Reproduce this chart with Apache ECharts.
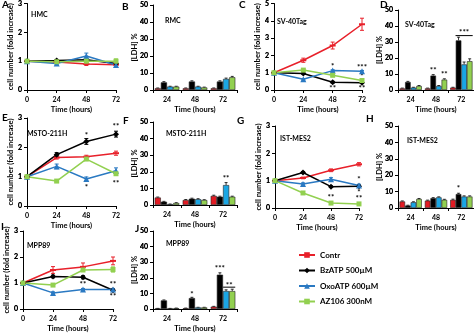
<!DOCTYPE html>
<html><head><meta charset="utf-8">
<script src="https://cdn.jsdelivr.net/npm/echarts@6/dist/echarts.min.js"></script>
<style>html,body{margin:0;padding:0;background:#fff}#c{width:474px;height:334px}</style>
</head><body><div id="c"></div>
<script>
// ---------- DATA ----------
const hours = [0, 24, 48, 72];
const barHours = ['24', '48', '72'];
const names = ['Contr', 'BzATP 500µM', 'OxoATP 600µM', 'AZ106 300nM'];
const yTicksLine = [0, 1, 2, 3];
const yTicksLine5 = [0, 1, 2, 3, 4, 5];
const yTicksBar = [0, 10, 20, 30, 40, 50];

const A_contr = [1, 0.97, 0.9, 0.88];
const A_bz    = [1, 1.02, 1.05, 0.92];
const A_oxo   = [1, 0.92, 1.18, 0.87];
const A_az    = [1, 0.98, 1.0, 1.0];
const A_err   = [[0,0.03,0.05,0.04],[0,0.04,0.04,0.03],[0,0.04,0.1,0.05],[0,0.03,0.04,0.08]];
const A_sig   = [];

const C_contr = [1, 1.72, 2.57, 3.8];
const C_bz    = [1, 0.95, 0.45, 0.42];
const C_oxo   = [1, 0.62, 1.12, 1.08];
const C_az    = [1, 1.15, 0.85, 0.55];
const C_err   = [[0,0.12,0.2,0.35],[0,0.04,0.05,0.04],[0,0.04,0.05,0.05],[0,0.05,0.05,0.05]];
const C_sig   = [[48,1.38,'*'],[48,0.12,'**'],[72,1.3,'***'],[72,0.78,'*'],[72,0.12,'**']];

const E_contr = [1, 1.65, 1.68, 1.8];
const E_bz    = [1, 1.75, 2.2, 2.45];
const E_oxo   = [1, 1.35, 0.92, 1.2];
const E_az    = [1, 0.85, 1.6, 1.1];
const E_err   = [[0,0.05,0.05,0.07],[0,0.07,0.1,0.1],[0,0.08,0.07,0.1],[0,0.03,0.04,0.05]];
const E_sig   = [[48,2.42,'*'],[48,0.62,'*'],[72,2.7,'**'],[72,0.78,'**']];

const G_contr = [1, 1.1, 1.38, 1.6];
const G_bz    = [1, 1.3, 0.78, 0.8];
const G_oxo   = [1, 0.88, 1.05, 0.82];
const G_az    = [1, 0.55, 0.18, 0.15];
const G_err   = [[0,0.03,0.05,0.06],[0,0.03,0.03,0.04],[0,0.04,0.06,0.05],[0,0.03,0.03,0.03]];
const G_sig   = [[48,0.4,'**'],[72,1.05,'*'],[72,0.58,'*'],[72,0.35,'**']];

const I_contr = [1, 1.5, 1.62, 1.85];
const I_bz    = [1, 1.25, 1.22, 0.72];
const I_oxo   = [1, 0.62, 0.75, 0.75];
const I_az    = [1, 0.92, 1.5, 1.52];
const I_err   = [[0,0.13,0.15,0.15],[0,0.05,0.06,0.05],[0,0.04,0.04,0.04],[0,0.04,0.05,0.1]];
const I_sig   = [[48,0.95,'**'],[72,0.95,'**'],[72,0.5,'**']];

const B_contr = [1, 1, 1];
const B_bz    = [4.5, 5, 5];
const B_oxo   = [2, 2, 6.5];
const B_az    = [2, 1.5, 7.5];
const B_err   = [[0.2,0.2,0.2],[0.4,0.4,0.4],[0.2,0.2,0.5],[0.2,0.2,0.5]];
const B_sig   = [];
const B_brk   = [];

const D_contr = [1, 1, 1.5];
const D_bz    = [5, 9, 31];
const D_oxo   = [1.5, 2.5, 16];
const D_az    = [2.5, 6.5, 18];
const D_err   = [[0.2,0.2,0.2],[0.4,0.6,2],[0.2,0.3,1.5],[0.3,0.5,1.5]];
const D_sig   = [[1,1,12,'**'],[1,3,9.5,'**'],[2,2,36,'***']];
const D_brk   = [[2,1,3,34]];

const F_contr = [4.5, 3, 5.5];
const F_bz    = [2, 3.8, 5];
const F_oxo   = [0.5, 3.5, 12];
const F_az    = [1.2, 3, 5];
const F_err   = [[0.3,0.3,0.4],[0.2,0.3,0.3],[0.1,0.3,1.5],[0.2,0.2,0.3]];
const F_sig   = [[2,2,16,'**']];
const F_brk   = [];

const H_contr = [4, 4.5, 5];
const H_bz    = [1.5, 6, 8.5];
const H_oxo   = [3.5, 6.5, 7];
const H_az    = [5.5, 5, 7];
const H_err   = [[0.3,0.3,0.4],[0.2,0.3,0.5],[0.3,0.3,0.4],[0.3,0.3,0.4]];
const H_sig   = [[2,1,12,'*']];
const H_brk   = [];

const J_contr = [0.3, 0.5, 1.5];
const J_bz    = [5.5, 7, 22];
const J_oxo   = [0.3, 1, 11.5];
const J_az    = [0.5, 1, 11.5];
const J_err   = [[0.1,0.1,0.2],[0.3,0.5,1.2],[0.1,0.1,0.8],[0.1,0.1,1.2]];
const J_sig   = [[1,1,9.5,'*'],[2,1,26,'***'],[2,2.5,15,'**']];
const J_brk   = [[2,2,3,14]];

// ---------- STYLE / LAYOUT ----------
const FONT = 'Lato';
const lineColors = ['#e8202a', '#000000', '#2a79c2', '#92d050'];
const barColors  = ['#e21b23', '#000000', '#1ba6e4', '#92d050'];
const symbols = ['rect', 'diamond', 'triangle', 'rect'];
const symSizes = [[6,2], 6, 6, 5];

const panels = [
  {L:'A', kind:'line', g:{left:27, top:2, width:89, height:88}, t:'HMC', tp:[31,11], lp:[2,0], yt:yTicksLine,
   d:[A_contr,A_bz,A_oxo,A_az], e:A_err, s:A_sig},
  {L:'B', kind:'bar', g:{left:153, top:5, width:84, height:85}, t:'RMC', tp:[165,17], lp:[122,2], yt:yTicksBar,
   d:[B_contr,B_bz,B_oxo,B_az], e:B_err, s:B_sig, b:B_brk},
  {L:'C', kind:'line', g:{left:274, top:1, width:88, height:89}, t:'SV-40Tag', tp:[277,18], lp:[239,0], yt:yTicksLine5,
   d:[C_contr,C_bz,C_oxo,C_az], e:C_err, s:C_sig},
  {L:'D', kind:'bar', g:{left:398, top:10, width:76, height:80}, t:'SV-40Tag', tp:[405,21], lp:[380,0], yt:yTicksBar,
   d:[D_contr,D_bz,D_oxo,D_az], e:D_err, s:D_sig, b:D_brk},
  {L:'E', kind:'line', g:{left:27, top:118, width:89, height:88}, t:'MSTO-211H', tp:[27,130], lp:[2,113], yt:yTicksLine,
   d:[E_contr,E_bz,E_oxo,E_az], e:E_err, s:E_sig},
  {L:'F', kind:'bar', g:{left:153, top:122, width:84, height:83}, t:'MSTO-211H', tp:[166,130], lp:[123,116], yt:yTicksBar,
   d:[F_contr,F_bz,F_oxo,F_az], e:F_err, s:F_sig, b:F_brk},
  {L:'G', kind:'line', g:{left:275, top:126, width:84, height:82}, t:'IST-MES2', tp:[280,135], lp:[237,116], yt:yTicksLine,
   d:[G_contr,G_bz,G_oxo,G_az], e:G_err, s:G_sig},
  {L:'H', kind:'bar', g:{left:398, top:126, width:76, height:82}, t:'IST-MES2', tp:[407,137], lp:[366,114], yt:yTicksBar,
   d:[H_contr,H_bz,H_oxo,H_az], e:H_err, s:H_sig, b:H_brk},
  {L:'I', kind:'line', g:{left:23, top:231, width:90, height:82}, t:'MPP89', tp:[27,242], lp:[1,222], yt:yTicksLine,
   d:[I_contr,I_bz,I_oxo,I_az], e:I_err, s:I_sig},
  {L:'J', kind:'bar', g:{left:153, top:231, width:84, height:83}, t:'MPP89', tp:[166,240], lp:[135,224], yt:yTicksBar,
   d:[J_contr,J_bz,J_oxo,J_az], e:J_err, s:J_sig, b:J_brk}
];

const BAR_GAP = 0.12;
const txt = {fontFamily: FONT, fontWeight: 'bold', color: '#000'};
const grid = [], xAxis = [], yAxis = [], series = [], titles = [];

panels.forEach((p, gi) => {
  grid.push(Object.assign({}, p.g));
  const lineAx = () => ({show:true, lineStyle:{color:'#000', width:1}});
  const tick = () => ({show:true, length:3, lineStyle:{color:'#000'}});
  const isLine = p.kind === 'line';
  xAxis.push(isLine ?
    {type:'value', gridIndex:gi, min:0, max:72, interval:24, axisLine:lineAx(), axisTick:tick(), splitLine:{show:false},
     axisLabel:Object.assign({fontSize:7, margin:6}, txt),
     name:'Time (hours)', nameLocation:'middle', nameGap:16, nameTextStyle:Object.assign({fontSize:7.5}, txt)} :
    {type:'category', gridIndex:gi, data:barHours, axisLine:lineAx(), axisTick:tick(),
     axisLabel:Object.assign({fontSize:7, margin:6}, txt),
     name:'Time (hours)', nameLocation:'middle', nameGap:16, nameTextStyle:Object.assign({fontSize:7.5}, txt)});
  const ymax = p.yt[p.yt.length - 1];
  yAxis.push({type:'value', gridIndex:gi, min:0, max:ymax, interval:p.yt[1] - p.yt[0],
    axisLine:lineAx(), axisTick:tick(), splitLine:{show:false},
    axisLabel:Object.assign({fontSize:7, margin:5}, txt),
    name: isLine ? 'cell number (fold increase)' : '[LDH] %', nameLocation:'middle', nameGap: isLine ? 12 : 14,
    nameMoveOverlap:false,
    nameTextStyle:Object.assign({fontSize:7.5}, txt)});

  if (isLine) {
    p.d.forEach((arr, si) => {
      series.push({type:'line', name:names[si], xAxisIndex:gi, yAxisIndex:gi,
        data: arr.map((v,i)=>[hours[i], v]),
        symbol: symbols[si], symbolSize: symSizes[si],
        lineStyle:{color:lineColors[si], width:1.5}, itemStyle:{color:lineColors[si]}});
      const err = p.e[si];
      series.push({type:'custom', xAxisIndex:gi, yAxisIndex:gi, silent:true,
        data: arr.map((v,i)=>[hours[i], v - err[i], v + err[i]]),
        encode:{x:0, y:[1,2]},
        renderItem: (params, api) => {
          const x = api.value(0);
          const t = api.coord([x, api.value(2)]), b = api.coord([x, api.value(1)]);
          if (Math.abs(t[1]-b[1]) < 0.5) return null;
          const st = {stroke: lineColors[si], lineWidth: 1};
          return {type:'group', children:[
            {type:'line', shape:{x1:t[0],y1:t[1],x2:b[0],y2:b[1]}, style:st},
            {type:'line', shape:{x1:t[0]-2,y1:t[1],x2:t[0]+2,y2:t[1]}, style:st},
            {type:'line', shape:{x1:b[0]-2,y1:b[1],x2:b[0]+2,y2:b[1]}, style:st}]};
        }});
    });
    if (p.s.length) series.push({type:'custom', xAxisIndex:gi, yAxisIndex:gi, silent:true,
      data: p.s.map(r => [r[0], r[1]]), encode:{x:0, y:1},
      renderItem: (params, api) => {
        const c = api.coord([api.value(0), api.value(1)]);
        return {type:'text', x:c[0], y:c[1], style:{text:p.s[params.dataIndex][2], fill:'#000',
          font:'bold 8px ' + FONT, align:'center', verticalAlign:'middle'}};
      }});
  } else {
    const barPos = (api, cat, idx) => {
      const c = api.coord([cat, 0]);
      const w = api.size([1, 0])[0];
      const bw = w * (1 - BAR_GAP) / 4;
      return c[0] + (idx - 1.5) * bw;
    };
    p.d.forEach((arr, si) => {
      series.push({type:'bar', name:names[si], xAxisIndex:gi, yAxisIndex:gi, data:arr,
        barGap:'0%', barCategoryGap:(BAR_GAP*100)+'%',
        itemStyle:{color:barColors[si], borderColor:'#222', borderWidth:0.6}});
      const err = p.e[si];
      series.push({type:'custom', xAxisIndex:gi, yAxisIndex:gi, silent:true,
        data: arr.map((v,i)=>[i, v, v + err[i]]), encode:{x:0, y:[1,2]},
        renderItem: (params, api) => {
          const cat = api.value(0);
          const x = barPos(api, cat, si);
          const t = api.coord([cat, api.value(2)])[1], b = api.coord([cat, api.value(1)])[1];
          const st = {stroke: '#000', lineWidth: 0.8};
          return {type:'group', children:[
            {type:'line', shape:{x1:x,y1:t,x2:x,y2:b}, style:st},
            {type:'line', shape:{x1:x-1.5,y1:t,x2:x+1.5,y2:t}, style:st}]};
        }});
    });
    if (p.s.length) series.push({type:'custom', xAxisIndex:gi, yAxisIndex:gi, silent:true,
      data: p.s.map(r => [r[0], r[2], r[1]]), encode:{x:0, y:1},
      renderItem: (params, api) => {
        const cat = api.value(0), idx = api.value(2);
        const x = barPos(api, cat, idx), y = api.coord([cat, api.value(1)])[1];
        return {type:'text', x:x, y:y, style:{text:p.s[params.dataIndex][3], fill:'#000',
          font:'bold 8px ' + FONT, align:'center', verticalAlign:'middle'}};
      }});
    if (p.b.length) series.push({type:'custom', xAxisIndex:gi, yAxisIndex:gi, silent:true,
      data: p.b.map(r => [r[0], r[3], r[1], r[2]]), encode:{x:0, y:1},
      renderItem: (params, api) => {
        const cat = api.value(0);
        const x1 = barPos(api, cat, api.value(2)) - 3, x2 = barPos(api, cat, api.value(3)) + 3;
        const y = api.coord([cat, api.value(1)])[1];
        return {type:'line', shape:{x1:x1,y1:y,x2:x2,y2:y}, style:{stroke:'#000', lineWidth:1}};
      }});
  }
  titles.push({text:p.L, left:p.lp[0], top:p.lp[1], padding:0, textStyle:{fontFamily:FONT, fontWeight:'bold', fontSize:10, color:'#000'}});
  titles.push({text:p.t, left:p.tp[0], top:p.tp[1], padding:0, textStyle:{fontFamily:FONT, fontWeight:'bold', fontSize:7, color:'#000'}});
});

const chart = echarts.init(document.getElementById('c'), null, {renderer:'canvas'});
chart.setOption({
  animation:false,
  title: titles, grid, xAxis, yAxis, series,
  legend:{data:names, orient:'vertical', left:293, top:246, itemGap:7.5, itemWidth:16, itemHeight:7,
    textStyle:{fontFamily:FONT, fontWeight:'bold', fontSize:8, color:'#000'}, selectedMode:false}
});

// y tick labels placed on a top layer, positioned through each y axis scale
const tickTexts = [];
panels.forEach((p, gi) => {
  p.yt.forEach(v => {
    const py = chart.convertToPixel({yAxisIndex: gi}, v);
    tickTexts.push({type:'text', zlevel:1, z:100, silent:true, x: p.g.left - 5, y: py,
      style:{text:String(v), fill:'#000', font:'bold 7px ' + FONT, align:'right', verticalAlign:'middle'}});
  });
});
chart.setOption({graphic: tickTexts});
</script></body></html>
